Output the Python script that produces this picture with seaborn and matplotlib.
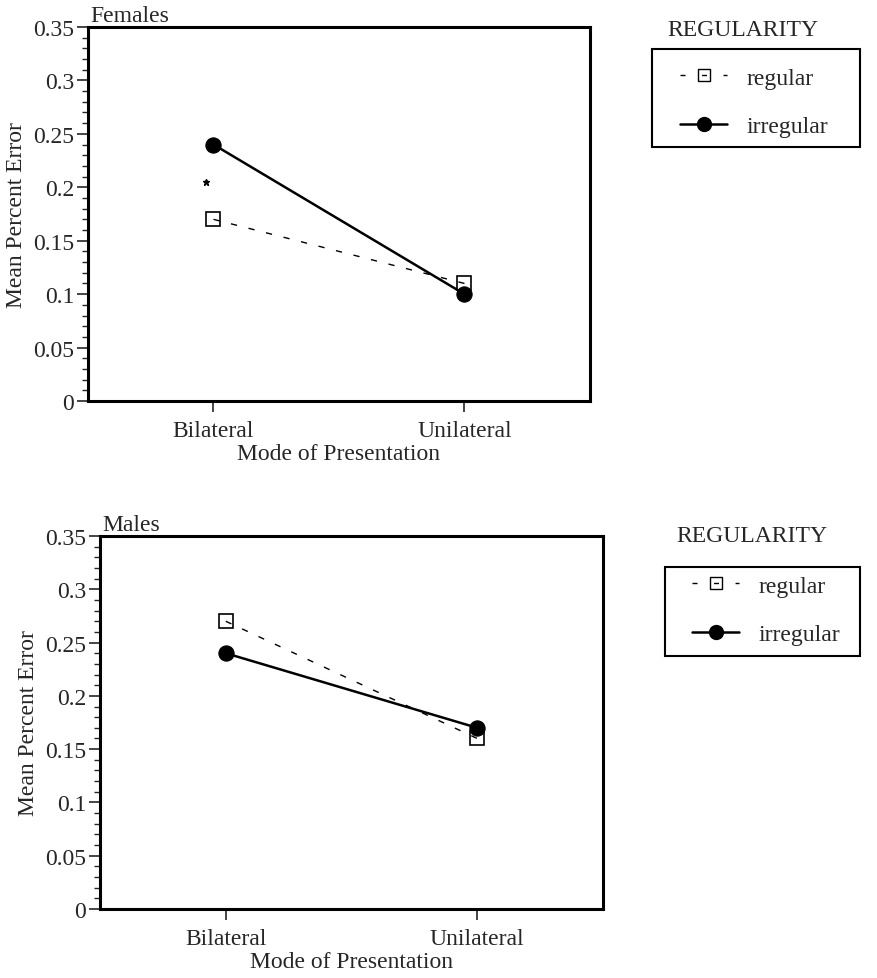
import matplotlib
matplotlib.use("Agg")
import matplotlib.pyplot as plt
import seaborn as sns
import pandas as pd
from matplotlib.ticker import AutoMinorLocator
from matplotlib.lines import Line2D
from matplotlib.patches import Rectangle

# ---- data ----
modes = ["Bilateral", "Unilateral"]
females_regular = [0.17, 0.11]
females_irregular = [0.24, 0.10]
males_regular = [0.27, 0.16]
males_irregular = [0.24, 0.17]
females_star = [0.205]   # significance marker near Bilateral
panel_titles = ["Females", "Males"]
legend_title = "REGULARITY"
series_labels = ["regular", "irregular"]
ytick_vals = [0, 0.05, 0.1, 0.15, 0.2, 0.25, 0.3, 0.35]
ytick_labels = ["0", "0.05", "0.1", "0.15", "0.2", "0.25", "0.3", "0.35"]

sns.set_theme(style="ticks")
plt.rcParams["font.family"] = ["Liberation Serif", "DejaVu Serif"]
FS = 17
plt.rcParams.update({"font.size": FS, "axes.labelsize": FS, "xtick.labelsize": FS,
                     "ytick.labelsize": FS, "legend.fontsize": FS})

fig = plt.figure(figsize=(8.78, 9.79), dpi=100)
W, H = 878, 979

def frac(l, t, r, b):
    return [l / W, 1 - b / H, (r - l) / W, (b - t) / H]

ax1 = fig.add_axes(frac(88, 28, 590, 402))
ax2 = fig.add_axes(frac(100, 537, 603, 910))

dash = (0, (4.5, 8.5))

def draw(ax, reg, irr, title):
    df_reg = pd.DataFrame({"Mode": modes, "Error": reg})
    df_irr = pd.DataFrame({"Mode": modes, "Error": irr})
    sns.lineplot(data=df_reg, x="Mode", y="Error", ax=ax, color="black",
                 linewidth=1.0, linestyle=dash, marker="s", markersize=10,
                 markerfacecolor="none", markeredgecolor="black",
                 markeredgewidth=1.2)
    sns.lineplot(data=df_irr, x="Mode", y="Error", ax=ax, color="black",
                 linewidth=1.8, marker="o", markersize=11,
                 markerfacecolor="black", markeredgecolor="black")
    ax.set_xlim(-0.5, 1.5)
    ax.set_ylim(0, 0.35)
    ax.set_yticks(ytick_vals)
    ax.set_yticklabels(ytick_labels, fontsize=FS)
    ax.yaxis.set_minor_locator(AutoMinorLocator(5))
    ax.tick_params(axis="y", which="major", length=8, width=1.2, direction="out",
                   pad=2, labelsize=FS)
    ax.tick_params(axis="y", which="minor", length=4, width=1.0, direction="out")
    ax.tick_params(axis="x", which="major", length=8, width=1.2, direction="out",
                   pad=6, labelsize=FS)
    for s in ax.spines.values():
        s.set_visible(True)
        s.set_linewidth(2.2)
        s.set_color("black")
    ax.set_xlabel("Mode of Presentation", labelpad=1, fontsize=FS)
    ax.set_ylabel("Mean Percent Error", labelpad=4, fontsize=FS)
    ax.text(0.005, 1.003, title, transform=ax.transAxes, ha="left", va="bottom",
            fontsize=FS)
    ax.grid(False)

draw(ax1, females_regular, females_irregular, panel_titles[0])
draw(ax2, males_regular, males_irregular, panel_titles[1])

ax1.plot([-0.03], females_star, marker="*", color="black", markersize=5, linestyle="none")

handles = [
    Line2D([], [], color="black", linewidth=1.0, linestyle=(0, (3.6, 11.9)), marker="s",
           markersize=8, markerfacecolor="none", markeredgewidth=1.0),
    Line2D([], [], color="black", linewidth=1.8, marker="o", markersize=10,
           markerfacecolor="black"),
]

# (title centre), (legend anchor), (box l, t, r, b)
specs = [
    (ax1, (743, 31), (680, 68), (652, 50, 860, 148)),
    (ax2, (752, 537), (692, 576), (665, 568, 860, 657)),
]
for ax, (tx, ty), (lx, ly), (bl, bt, br, bb) in specs:
    fig.text(tx / W, 1 - ty / H, legend_title, ha="center", va="center", fontsize=FS)
    leg = ax.legend(handles, series_labels, loc="upper left",
                    bbox_to_anchor=(lx / W, 1 - ly / H), bbox_transform=fig.transFigure,
                    frameon=False, borderpad=0, handlelength=2.0,
                    handletextpad=0.8, labelspacing=1.15, borderaxespad=0, fontsize=FS)
    fig.patches.append(Rectangle((bl / W, 1 - bb / H), (br - bl) / W, (bb - bt) / H,
                                 transform=fig.transFigure, fill=False,
                                 edgecolor="black", linewidth=1.5))

fig.savefig("out.png", dpi=100)
